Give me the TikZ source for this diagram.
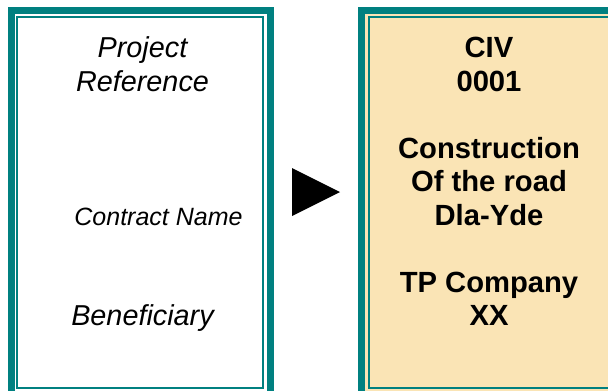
\documentclass[tikz,border=0pt]{standalone}
\usepackage{fontspec}
\setmainfont{Liberation Sans}
\usepackage{tikz}
\usetikzlibrary{positioning,calc}
\usepackage{xcolor}

\definecolor{frameteal}{RGB}{0,128,128}
\definecolor{sandfill}{RGB}{250,228,181}

\begin{document}
\begin{tikzpicture}[x=1pt,y=-1pt,
outerframe/.style={draw=frameteal, line width=7pt},
innerframe/.style={draw=frameteal, line width=2pt},
fieldname/.style={anchor=base, inner sep=0pt, font=\fontsize{28.8}{33.5}\selectfont\itshape},
fieldvalue/.style={anchor=base, inner sep=0pt, font=\fontsize{29.2}{33.5}\selectfont\bfseries},
]
\useasboundingbox (0,0) rectangle (608,391);
\clip (0,0) rectangle (608,391);
\coordinate (L) at (142.5,0);
\coordinate (R) at (489,0);

% left card: field names
\filldraw[outerframe, fill=white] (11.5,10.5) rectangle (270.5,395.5);
\draw[innerframe] (17,17) rectangle (263,388);
\node[fieldname] (proj) at ($(L)+(0,57.5)$) {Project};
\node[fieldname] (ref) at ($(L)+(0,91)$) {Reference};
\node[fieldname, font=\fontsize{25}{33.5}\selectfont\itshape] (cname) at ($(L)+(16,225)$) {Contract Name};
\node[fieldname] (benef) at ($(L)+(0,325.5)$) {Beneficiary};

% arrow head between the cards
\fill[black] (292,168) -- (340,192) -- (292,216) -- cycle;

% right card: values
\filldraw[outerframe, fill=sandfill] (361.5,10.5) rectangle (620.5,395.5);
\draw[innerframe] (369,17) rectangle (615,388);
\node[fieldvalue] (civ) at ($(R)+(0,57.5)$) {CIV};
\node[fieldvalue] (num) at ($(R)+(0,91)$) {0001};
\node[fieldvalue] (cons) at ($(R)+(0,158)$) {Construction};
\node[fieldvalue] (road) at ($(R)+(0,191.5)$) {Of the road};
\node[fieldvalue] (dla) at ($(R)+(0,225)$) {Dla-Yde};
\node[fieldvalue] (tpco) at ($(R)+(0,292)$) {TP Company};
\node[fieldvalue] (xx) at ($(R)+(0,325.5)$) {XX};
\end{tikzpicture}
\end{document}
